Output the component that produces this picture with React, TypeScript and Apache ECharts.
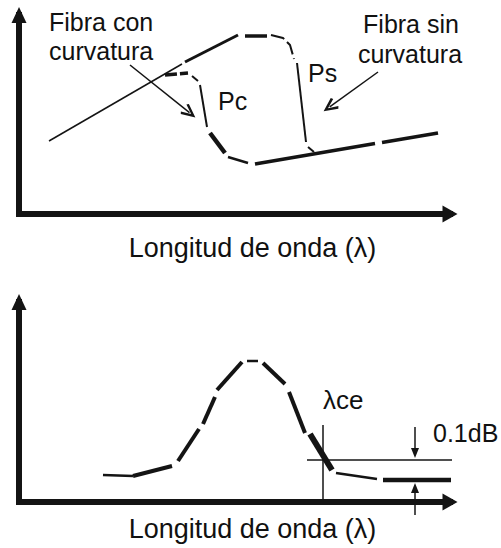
import React, { useEffect, useRef } from "react";
import * as echarts from "echarts";

const INK = "#141414";
const FONT = "'Liberation Sans', Arial, Helvetica, sans-serif";

// Arbitrary schematic units (no numeric scale in the original drawing)
const X_MAX = 431;
const TOP_Y_MAX = 199;
const BOTTOM_Y_MAX = 200;

// ---- Top panel: power vs wavelength ----
// "Fibra sin curvatura" (Ps)
const psRiseThin = [[30, 73], [163, 150]];
const psRiseThick = [[166, 152], [219, 179]];
const psPeakFlat = [[226, 178], [248, 178]];
const psShoulder = [[252, 179], [264, 176], [271, 169], [275, 155]];
const psDrop = [[278, 151], [287, 72]];
const psHook = [[289, 67], [295, 62]];
// shared floor of both curves
const floorLeft = [[236, 50], [356, 70.5]];
const floorRight = [[363, 71.5], [419, 81]];
// "Fibra con curvatura" (Pc)
const pcTop = [[146, 139], [169, 141]];
const pcBend = [[173, 138], [179, 133]];
const pcDrop = [[181, 129], [188, 87]];
const pcKnee = [[191, 81], [206, 61]];
const pcFoot = [[209, 57], [229, 51]];
// annotation arrows [from, to]
const conArrow = [[111, 149], [170.5, 101.3]];
const sinArrow = [[359, 142], [310.7, 107.1]];

// ---- Bottom panel: attenuation difference vs wavelength ----
const lossTailLeft = [[84, 27], [114, 26]];
const lossRise1 = [[114, 26], [153, 36]];
const lossRise2 = [[159, 41], [180, 73]];
const lossRise3 = [[184, 78], [196, 105]];
const lossRise4 = [[198, 112], [223, 140]];
const lossPeak = [[228, 141], [239, 141]];
const lossFall1 = [[244, 139], [266, 118]];
const lossFall2 = [[270, 110], [286, 69]];
const lossFall3 = [[291, 68], [313, 32]];
const lossTailRight = [[317, 29], [358, 23]];
const baselineRef = [[364, 22], [432, 22]];
const thresholdLine = [[288, 42], [433, 42]];
const lambdaCeLine = [[304, 77], [304, 0]];
const downArrow = [[396, 75], [396, 49]];
const upArrow = [[396, -13], [396, 14]];

const CHEVRON = "path://M5,0 L10,9 L8.4,10 L5,3.6 L1.6,10 L0,9 Z";

function seg(data: number[][], width: number, panel: number, dash?: any) {
  return {
    type: "line",
    xAxisIndex: panel,
    yAxisIndex: panel,
    data,
    symbol: "none",
    clip: false,
    silent: true,
    lineStyle: { color: INK, width, type: dash || "solid", cap: "butt" },
    z: 3,
  };
}

function arrowSeg(data: number[][], panel: number, rotate: number) {
  return {
    type: "line",
    xAxisIndex: panel,
    yAxisIndex: panel,
    clip: false,
    silent: true,
    showSymbol: true,
    symbol: "none",
    itemStyle: { color: INK },
    lineStyle: { color: INK, width: 1.5 },
    data: [
      { value: data[0], symbol: "none" },
      { value: data[1], symbol: "triangle", symbolSize: [8, 10], symbolRotate: rotate },
    ],
    z: 4,
  };
}

function xAxis(gridIndex: number) {
  return {
    type: "value",
    gridIndex,
    min: 0,
    max: X_MAX,
    axisLine: {
      show: true,
      onZero: false,
      symbol: ["none", "triangle"],
      symbolSize: [17, 15],
      lineStyle: { color: INK, width: 6, cap: "square" },
    },
    axisTick: { show: false },
    axisLabel: { show: false },
    splitLine: { show: false },
  };
}

function yAxis(gridIndex: number, max: number) {
  return {
    type: "value",
    gridIndex,
    min: 0,
    max,
    axisLine: {
      show: true,
      onZero: false,
      symbol: ["none", "triangle"],
      symbolSize: [15, 16],
      lineStyle: { color: INK, width: 6, cap: "square" },
    },
    axisTick: { show: false },
    axisLabel: { show: false },
    splitLine: { show: false },
  };
}

function label(t: string, x: number, y: number, size: number, align = "left") {
  return {
    type: "text",
    x,
    y,
    silent: true,
    style: {
      text: t,
      fill: "#111",
      font: `${size}px ${FONT}`,
      textAlign: align,
      align,
      textVerticalAlign: "middle",
      verticalAlign: "middle",
    },
  };
}

export default function App() {
  const ref = useRef<HTMLDivElement>(null);
  useEffect(() => {
    if (!ref.current) return;
    const chart = echarts.init(ref.current, undefined, { renderer: "svg" });
    const markArrows = {
      silent: true,
      animation: false,
      symbol: ["none", CHEVRON],
      symbolSize: [13, 15],
      label: { show: false },
      lineStyle: { color: INK, width: 1.5, type: "solid" },
      emphasis: { disabled: true },
      data: [
        [{ coord: conArrow[0] }, { coord: conArrow[1] }],
        [{ coord: sinArrow[0] }, { coord: sinArrow[1] }],
      ],
    };
    const psThin: any = seg(psRiseThin, 1.5, 0);
    psThin.markLine = markArrows;
    chart.setOption({
      animation: false,
      backgroundColor: "#ffffff",
      grid: [
        { left: 19, top: 15, width: 431, height: 199 },
        { left: 19, top: 302, width: 431, height: 200 },
      ],
      xAxis: [xAxis(0), xAxis(1)],
      yAxis: [yAxis(0, TOP_Y_MAX), yAxis(1, BOTTOM_Y_MAX)],
      series: [
        psThin,
        seg(psRiseThick, 3, 0),
        seg(psPeakFlat, 3.5, 0),
        seg(psShoulder, 2, 0, [14, 4]),
        seg(psDrop, 2, 0),
        seg(psHook, 2, 0),
        seg(floorLeft, 3.5, 0),
        seg(floorRight, 3.5, 0),
        seg(pcTop, 3.5, 0, [12, 3]),
        seg(pcBend, 2, 0),
        seg(pcDrop, 2, 0),
        seg(pcKnee, 4.5, 0),
        seg(pcFoot, 2.5, 0),
        seg(lossTailLeft, 2.5, 1),
        seg(lossRise1, 4, 1),
        seg(lossRise2, 4, 1),
        seg(lossRise3, 4, 1),
        seg(lossRise4, 4, 1),
        seg(lossPeak, 2.5, 1),
        seg(lossFall1, 4, 1),
        seg(lossFall2, 4, 1),
        seg(lossFall3, 6, 1),
        seg(lossTailRight, 2.5, 1),
        seg(baselineRef, 4.5, 1),
        seg(thresholdLine, 1.5, 1),
        seg(lambdaCeLine, 1.5, 1),
        arrowSeg(downArrow, 1, 180),
        arrowSeg(upArrow, 1, 0),
      ],
      graphic: [
        label("Fibra con", 49, 22, 25),
        label("curvatura", 49, 51, 25),
        label("Fibra sin", 411, 24, 25, "center"),
        label("curvatura", 410, 54, 25, "center"),
        label("Pc", 218, 101, 25),
        label("Ps", 308, 73, 25),
        label("Longitud de onda (λ)", 252.5, 247.6, 27, "center"),
        label("Longitud de onda (λ)", 252.5, 528.6, 27, "center"),
        label("λce", 323, 400, 26),
        label("0.1dB", 433, 433.3, 25),
      ],
    });
    return () => chart.dispose();
  }, []);
  return (
    <div
      ref={ref}
      style={{ position: "absolute", left: 0, top: 0, width: 501, height: 548, background: "#fff" }}
    />
  );
}
